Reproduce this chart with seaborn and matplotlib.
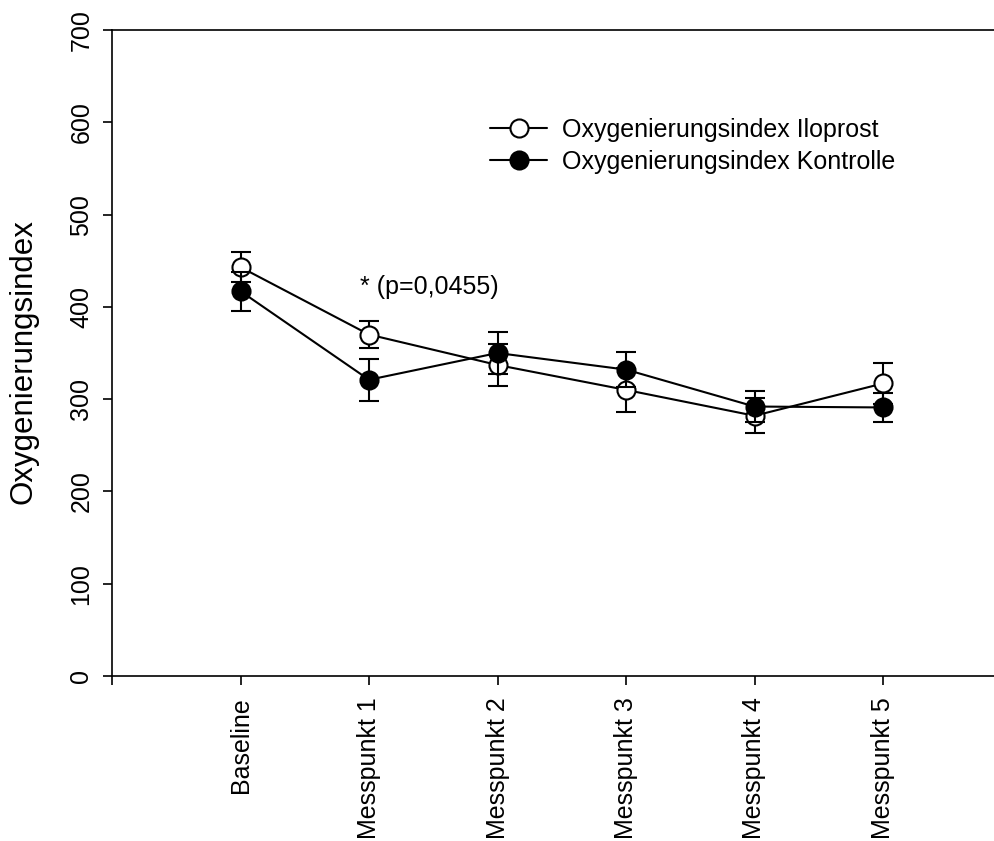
import matplotlib
matplotlib.use("Agg")
import matplotlib.pyplot as plt
import numpy as np
import pandas as pd
import seaborn as sns

# Messpunkte and group means with standard errors
messpunkte = ["Baseline", "Messpunkt 1", "Messpunkt 2", "Messpunkt 3", "Messpunkt 4", "Messpunkt 5"]
iloprost_mean = [443, 370, 337, 310, 282, 317]
iloprost_err = [16, 15, 23, 24, 19, 22]
kontrolle_mean = [417, 321, 350, 332, 292, 291]
kontrolle_err = [21, 23, 23, 19, 17, 16]

label_ilo = "Oxygenierungsindex Iloprost"
label_kon = "Oxygenierungsindex Kontrolle"
y_ticks = [0, 100, 200, 300, 400, 500, 600, 700]
annotation = "* (p=0,0455)"

sns.set_theme(style="ticks")
plt.rcParams["font.family"] = ["Liberation Sans", "DejaVu Sans"]
plt.rcParams["text.color"] = "black"
plt.rcParams["axes.labelcolor"] = "black"

pos = np.arange(len(messpunkte))
df = pd.DataFrame({
    "pos": np.concatenate([pos, pos]),
    "wert": iloprost_mean + kontrolle_mean,
    "gruppe": [label_ilo] * len(pos) + [label_kon] * len(pos),
})

fig = plt.figure(figsize=(9.95, 8.41), dpi=100)
ax = fig.add_axes([112 / 995, 1 - 676 / 841, 1 - 112 / 995, (676 - 30) / 841])

lw = 1.5
ms = 13
cap = 7

# Iloprost: error bars below the open markers
ax.errorbar(pos, iloprost_mean, yerr=iloprost_err, fmt="none", ecolor="black",
            elinewidth=lw, capsize=cap, capthick=lw, zorder=2)
sns.lineplot(data=df[df.gruppe == label_ilo], x="pos", y="wert", ax=ax,
             color="black", linewidth=lw, marker="o", markersize=ms,
             markerfacecolor="white", markeredgecolor="black", markeredgewidth=lw,
             label=label_ilo, zorder=3)

# Kontrolle: drawn on top
ax.errorbar(pos, kontrolle_mean, yerr=kontrolle_err, fmt="none", ecolor="black",
            elinewidth=lw, capsize=cap, capthick=lw, zorder=4)
sns.lineplot(data=df[df.gruppe == label_kon], x="pos", y="wert", ax=ax,
             color="black", linewidth=lw, marker="o", markersize=ms,
             markerfacecolor="black", markeredgecolor="black", markeredgewidth=lw,
             label=label_kon, zorder=5)

ax.set_xlim(-1, -1 + (995 - 112) / 128.5)
ax.set_ylim(0, 700)
ax.set_yticks(y_ticks)
ax.set_yticklabels([str(t) for t in y_ticks], rotation=90, va="center", fontsize=18)
ax.set_xticks(np.concatenate([[-1], pos]))
ax.set_xticklabels([""] + messpunkte, rotation=90, fontsize=18)
ax.tick_params(axis="both", length=9 * 0.72, width=1.2, color="black", labelcolor="black")
ax.tick_params(axis="y", pad=7)
ax.tick_params(axis="x", pad=9)
ax.set_xlabel("")
ax.set_ylabel("Oxygenierungsindex", fontsize=22.5, color="black")
ax.yaxis.set_label_coords(-0.0838, (676 - 362) / 646)

for side in ["left", "bottom", "top"]:
    ax.spines[side].set_linewidth(1.2)
    ax.spines[side].set_color("black")
ax.spines["right"].set_visible(False)

ax.text(0.93, 421, annotation, fontsize=18, ha="left", va="center", color="black")

leg = ax.legend(loc="upper left", bbox_to_anchor=(490 / 995, 1 - 118 / 841),
                bbox_transform=fig.transFigure, frameon=False, fontsize=18,
                handlelength=2.3, handletextpad=0.6, labelspacing=0.3,
                borderpad=0, borderaxespad=0)
for t in leg.get_texts():
    t.set_color("black")

fig.savefig("out.png", dpi=100)
